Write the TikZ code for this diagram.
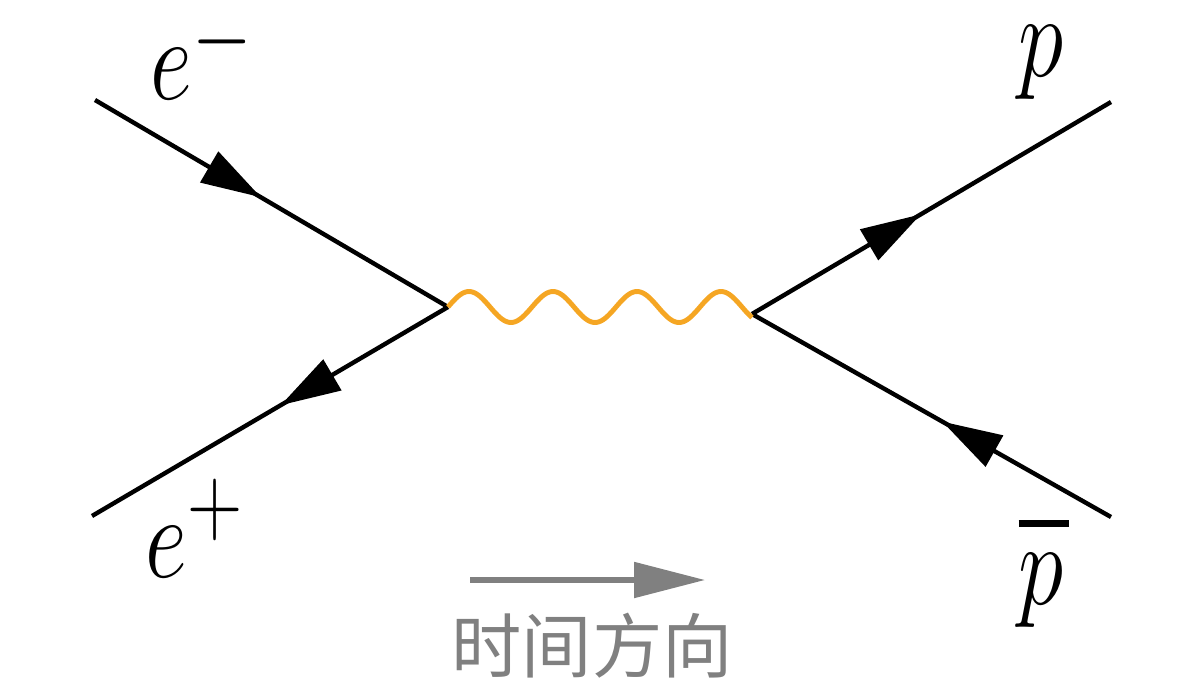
\documentclass[tikz,border=0pt]{standalone}
\usepackage{fontspec}
\newfontfamily\cjk{Noto Sans CJK SC}
\usetikzlibrary{arrows.meta,decorations.markings}
\definecolor{photonorange}{HTML}{F5A623}
\definecolor{timegray}{HTML}{808080}

\begin{document}
\begin{tikzpicture}[x=0.02cm,y=-0.02cm,
  fermion/.style={line width=2.5pt,
    postaction={decorate,decoration={markings,
      mark=at position 0.47 with {\arrow{Triangle[length=1.2cm,width=0.7cm]}}}}},
  photon/.style={line width=2.8pt,photonorange},
  partlabel/.style={inner sep=0pt,xscale=2.1,yscale=2.7,font=\Huge}]
  \useasboundingbox (0,0) rectangle (1204,686);
  % vertices and outer ends
  \coordinate (lv) at (448,307);
  \coordinate (rv) at (752,314);
  \coordinate (elec) at (95,100);
  \coordinate (posi) at (92,516);
  \coordinate (prot) at (1111,102);
  \coordinate (aprot) at (1111,517);
  % particle lines
  \draw[fermion] (elec) -- (lv);
  \draw[fermion] (lv) -- (posi);
  \draw[fermion] (rv) -- (prot);
  \draw[fermion] (aprot) -- (rv);
  % photon, from lv to rv
  \draw[photon,shift={(lv)}] plot[domain=0:304,samples=160,smooth]
    (\x,{-15.5*sin(\x/84*360)});
  % labels
  \node[partlabel,anchor=base west] (elabel) at (150,100)
    {$e^{\raisebox{-2pt}{$\scriptstyle-$}}$};
  \node[partlabel,anchor=base west] (plabel) at (145,577) {$e^+$};
  \node[partlabel,anchor=base west] (protlabel) at (1018,77) {$p$};
  \node[partlabel,anchor=base west] (aprotlabel) at (1018,604)
    {$\rlap{\rule[16.2pt]{13.5pt}{1.5pt}}p$};
  % time direction
  \coordinate (tstart) at (470,580);
  \coordinate (tend) at (705,580);
  \draw[timegray,line width=3pt,-{Triangle[length=1.42cm,width=0.7cm]}] (tstart) -- (tend);
  \node[timegray,font=\cjk\fontsize{40}{42}\selectfont] (tlabel) at (592,646) {时间方向};
\end{tikzpicture}
\end{document}
